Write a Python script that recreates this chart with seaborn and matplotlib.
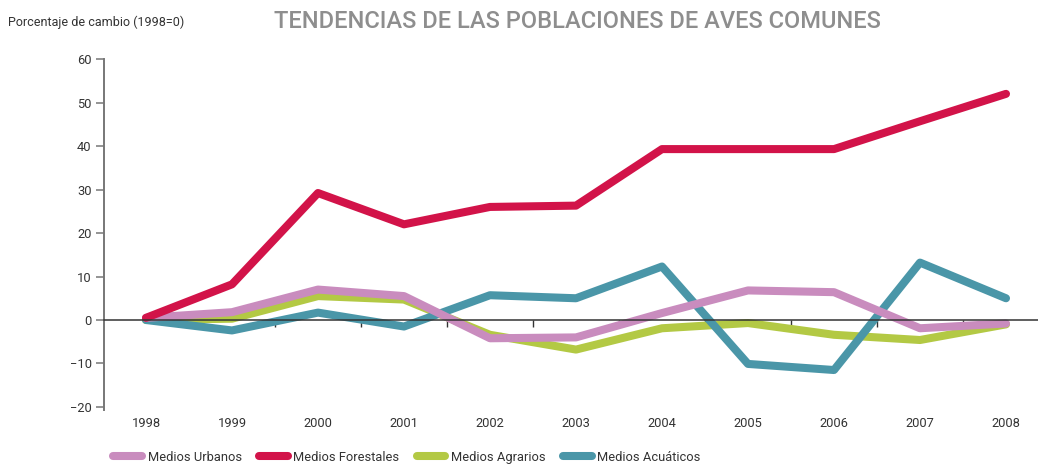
import pandas as pd
import matplotlib.pyplot as plt
import seaborn as sns
from matplotlib.lines import Line2D

# valores
years = [1998, 1999, 2000, 2001, 2002, 2003, 2004, 2005, 2006, 2007, 2008]
urbanos = [0.5, 1.8, 7.0, 5.5, -4.2, -4.0, 1.6, 6.8, 6.4, -1.9, -0.8]
forestales = [0.5, 8.2, 29.2, 22.0, 26.0, 26.3, 39.3, 39.3, 39.3, 45.7, 52.0]
agrarios = [0.0, 0.3, 5.5, 4.7, -3.4, -6.8, -1.9, -0.7, -3.4, -4.6, -1.0]
acuaticos = [0.0, -2.4, 1.7, -1.5, 5.7, 5.0, 12.3, -10.1, -11.5, 13.2, 5.0]

names = ["Medios Urbanos", "Medios Forestales", "Medios Agrarios", "Medios Acuáticos"]
colors = ["#c98cbe", "#d21349", "#b3c944", "#4a96a8"]

df = pd.DataFrame({"year": years, names[0]: urbanos, names[1]: forestales,
                   names[2]: agrarios, names[3]: acuaticos})
df = df.melt(id_vars="year", var_name="serie", value_name="valor")

sns.set_style("white")
plt.rcParams["font.family"] = ["Roboto", "DejaVu Sans"]

fig = plt.figure(figsize=(10.38, 4.67), dpi=100)
ax = fig.add_axes([0.1002, 0.122, 0.8998, 0.7515])

# orden de dibujo: agrarios abajo, forestales arriba
for i in [2, 3, 0, 1]:
    sns.lineplot(data=df[df["serie"] == names[i]], x="year", y="valor", color=colors[i],
                 linewidth=5.8, ax=ax, solid_capstyle="round", solid_joinstyle="round",
                 legend=False, zorder=2)

ax.set_xlim(1997.512, 2008.372)
ax.set_ylim(-20.7, 60)
ax.set_yticks(range(-20, 61, 10))
ax.set_xlabel("")
ax.set_ylabel("")

ax.spines["top"].set_visible(False)
ax.spines["right"].set_visible(False)
ax.spines["left"].set_color("#777777")
ax.spines["left"].set_linewidth(1.4)
ax.spines["bottom"].set_position(("data", 0))
ax.spines["bottom"].set_color("#333333")
ax.spines["bottom"].set_linewidth(1.1)
ax.spines["bottom"].set_zorder(5)

ax.tick_params(axis="y", direction="out", length=6, width=1.1, color="#777777",
               labelsize=9.3, labelcolor="#333333", pad=3, left=True)
ax.set_xticks([y + 0.5 for y in years[:-1]])
ax.tick_params(axis="x", direction="out", length=5, width=1, color="#333333",
               labelbottom=False, bottom=True)

sec = ax.secondary_xaxis("bottom")
sec.set_xticks(years)
sec.set_xticklabels([str(y) for y in years])
sec.tick_params(length=0, labelsize=9.3, labelcolor="#333333", pad=5)
sec.spines["bottom"].set_visible(False)

fig.text(0.008, 0.952, "Porcentaje de cambio (1998=0)", fontsize=9, color="#333333",
         va="center", ha="left")
fig.text(0.556, 0.953, "TENDENCIAS DE LAS POBLACIONES DE AVES COMUNES", fontsize=17,
         color="#8e8e8e", fontweight="medium", va="center", ha="center")

handles = [Line2D([], [], color=c, linewidth=5.8, solid_capstyle="round") for c in colors]
fig.legend(handles, names, loc="lower left", bbox_to_anchor=(0.098, -0.018), ncol=4,
           frameon=False, fontsize=9.3, handlelength=2.2, handletextpad=0.45,
           columnspacing=1.35, labelcolor="#333333")

fig.savefig("out.png", dpi=100)
